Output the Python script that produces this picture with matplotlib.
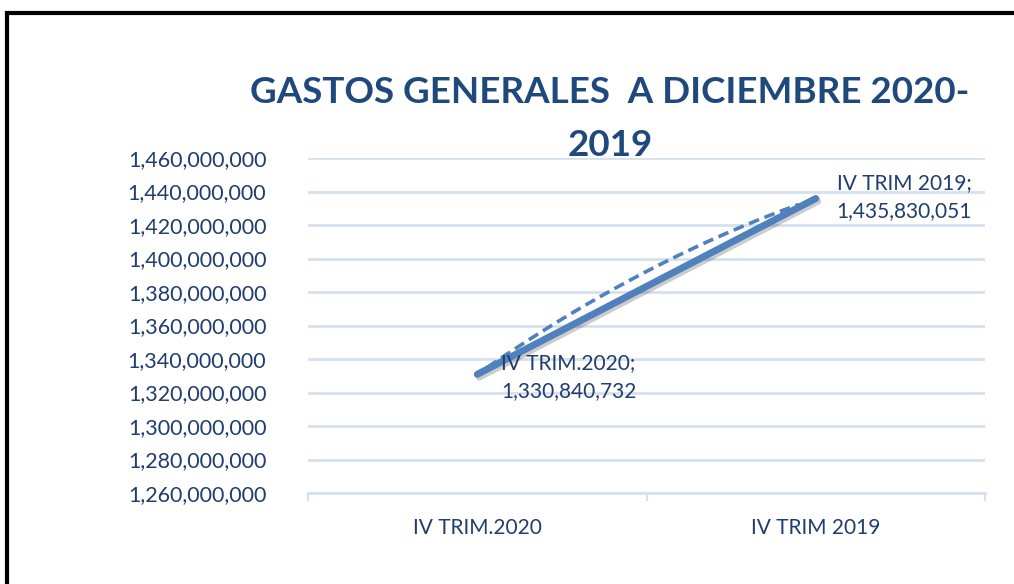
import matplotlib
matplotlib.use("Agg")
import matplotlib.pyplot as plt
import matplotlib.patheffects as pe
from matplotlib.patches import Rectangle
from matplotlib.ticker import FuncFormatter, FixedLocator
import numpy as np

categories = ["IV TRIM.2020", "IV TRIM 2019"]
values = [1330840732, 1435830051]
yticks = list(range(1260000000, 1460000001, 20000000))
title = "GASTOS GENERALES  A DICIEMBRE 2020-\n2019"

W, H = 1014, 584
fig = plt.figure(figsize=(W / 100, H / 100), dpi=100)
plt.rcParams['font.family'] = ['Lato', 'DejaVu Sans']

line_col = "#4F81BD"
text_col = "#1F3D6E"
grid_col = "#D6E1F0"

# frame of the chart area
fig.patches.append(Rectangle((7 / W, -0.1), 1.2, 1 - 13 / H + 0.1, transform=fig.transFigure,
                             fill=False, edgecolor="black", linewidth=3))

ax = fig.add_axes([308 / W, 1 - 493 / H, (985 - 308) / W, (493 - 158) / H])
x = np.arange(len(categories))
ax.set_xlim(-0.5, len(categories) - 0.5)
ax.set_ylim(yticks[0], yticks[-1])

for s in ["top", "right", "left"]:
    ax.spines[s].set_visible(False)
ax.spines["bottom"].set_color(grid_col)
ax.spines["bottom"].set_linewidth(2)

ax.yaxis.set_major_locator(FixedLocator(yticks))
ax.yaxis.set_major_formatter(FuncFormatter(lambda v, p: f"{int(v):,}"))
ax.tick_params(axis="y", length=0, pad=30, labelsize=15.5, labelcolor=text_col)
ax.grid(axis="y", color=grid_col, linewidth=2)
ax.set_axisbelow(True)

ax.set_xticks(x)
ax.set_xticklabels(categories)
ax.tick_params(axis="x", length=0, pad=18, labelsize=15, labelcolor=text_col)
ax.set_xticks(np.arange(-0.5, len(categories)), minor=True)
ax.tick_params(axis="x", which="minor", length=6, width=1.5, color=grid_col, direction="out")

# smoothed dashed curve from the series
t = np.linspace(0.03, 0.95, 60)
bulge = 0.085 * (values[1] - values[0])
xc = x[0] + (x[1] - x[0]) * t
yc = values[0] + (values[1] - values[0]) * t + bulge * 4 * t * (1 - t)
ax.plot(xc, yc, color=line_col, linewidth=2.6, linestyle=(0, (3, 1.6)), zorder=3)

ax.plot(x, values, color=line_col, linewidth=5, solid_capstyle="round", zorder=4,
        path_effects=[pe.SimpleLineShadow(offset=(1.5, -2), shadow_color="black", alpha=0.2),
                      pe.Normal()])

ax.annotate(f"{categories[0]};\n{values[0]:,}", (x[0], values[0]), xytext=(17, 15),
            textcoords="offset points", ha="left", va="top", fontsize=15,
            color=text_col, linespacing=1.5, zorder=5)
ax.annotate(f"{categories[1]};\n{values[1]:,}", (x[1], values[1]), xytext=(15, 18),
            textcoords="offset points", ha="left", va="top", fontsize=15,
            color=text_col, linespacing=1.5, zorder=5)

fig.text(610 / W, 1 - 119 / H, title, ha="center", va="center", fontsize=26.5,
         fontweight="bold", color="#1F497D", linespacing=1.75)

fig.savefig("out.png", dpi=100)
